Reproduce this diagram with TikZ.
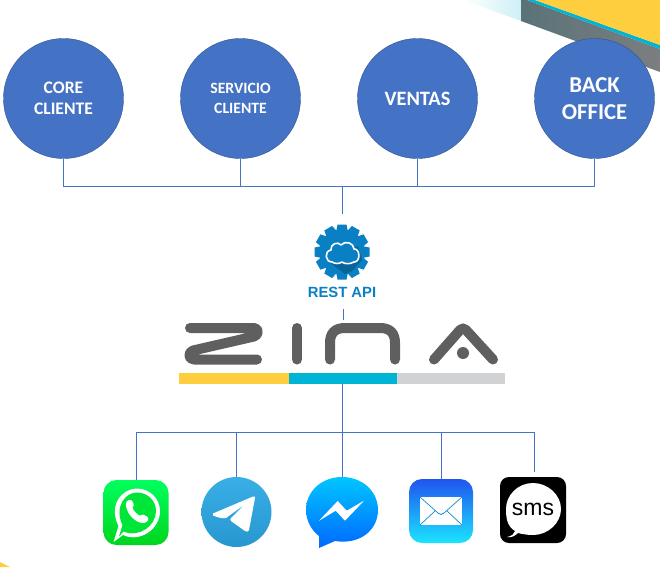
\documentclass[tikz,border=0pt]{standalone}
\usepackage{fontspec}
\setmainfont{Carlito}
\newfontfamily\iconfont{Liberation Sans}
\definecolor{circleblue}{HTML}{4472C4}
\definecolor{circleedge}{HTML}{2F528F}
\definecolor{apiblue}{HTML}{0A80C4}
\definecolor{zinagray}{HTML}{5F5F5F}
\definecolor{zinayellow}{HTML}{FFCE3E}
\definecolor{zinacyan}{HTML}{00B4D6}
\definecolor{zinasilver}{HTML}{D0D2D3}
\definecolor{wagreen}{HTML}{00D51E}
\definecolor{waback}{HTML}{00FF5E}
\definecolor{tgtop}{HTML}{39AEE6}
\definecolor{tgbottom}{HTML}{2897D0}
\definecolor{mstop}{HTML}{00C6FF}
\definecolor{msbottom}{HTML}{0068FF}
\definecolor{mailtop}{HTML}{1F55EE}
\definecolor{mailbottom}{HTML}{1CE4FF}
\definecolor{slateleft}{HTML}{5A7378}
\definecolor{slateright}{HTML}{7C7E80}
\tikzset{
  areanode/.style={circle,draw=circleedge,fill=circleblue,minimum size=120pt,inner sep=0pt,
    text=white,font=\bfseries,align=center},
  iconnode/.style={minimum size=65pt,inner sep=0pt,rounded corners=13pt},
  linkline/.style={draw=circleblue,line width=0.9pt},
  zinaline/.style={draw=zinagray,line width=10pt,line cap=round,line join=round}
}
\begin{document}
\begin{tikzpicture}[x=1pt,y=-1pt]
  \useasboundingbox (0,0) rectangle (660,567);
  % corner
  \shade[left color=white,right color=zinacyan!20] (463,0) -- (521,21) -- (521,0) -- cycle;
  \shade[left color=slateleft,right color=slateright] (521,0) -- (521,21) -- (660,72) -- (660,49) -- (527,0) -- cycle;
  \fill[zinacyan] (527,0) -- (660,49) -- (660,45) -- (535,0) -- cycle;
  \fill[zinayellow] (535,0) -- (660,45) -- (660,0) -- cycle;
  \fill[zinayellow] (0,562) -- (10,567) -- (0,567) -- cycle;
  % top circles
  \node[areanode,font=\bfseries\fontsize{17.6}{21}\selectfont] (core) at (63.5,98.5) {CORE\\CLIENTE};
  \node[areanode,font=\bfseries\fontsize{15.7}{19.5}\selectfont] (servicio) at (240.5,98.5) {SERVICIO\\CLIENTE};
  \node[areanode,font=\bfseries\fontsize{20.4}{24}\selectfont] (ventas) at (417.5,98.5) {VENTAS};
  \node[areanode,font=\bfseries\fontsize{22.7}{27}\selectfont] (back) at (594.5,98.5) {BACK\\OFFICE};
  \coordinate (top bus) at (342,186);
  \coordinate (api in) at (342,214);
  % gear
  \fill[apiblue] (342,252) circle (22.5);
  \foreach \a in {0,30,...,330}
    \fill[apiblue,rotate around={\a:(342,252)}] (336,232) -- (337.5,224.5) -- (346.5,224.5) -- (348,232) -- cycle;
  \fill[black!22!apiblue] (329,262) -- (358,246) -- (362,260) -- (352,271) -- (345,274) -- cycle;
  \draw[white,line width=1.6pt,fill=apiblue,line join=round]
    (332,262) .. controls (325,262) and (324,251) .. (331,250) .. controls (330,244) and (338,241) .. (341,245)
    .. controls (345,240) and (354,243) .. (354,249) .. controls (360,248) and (361,262) .. (354,262)
    .. controls (350,264.5) and (344,264) .. (342,262) .. controls (339,264) and (335,264) .. (332,262) -- cycle;
  \node[text=apiblue,font=\iconfont\bfseries\fontsize{14.8}{16}\selectfont,inner sep=0pt] (api) at (342,292.5) {REST API};
  \coordinate (api out) at (343,309);
  \coordinate (zina in) at (343,320);
  % zina
  \draw[zinaline] (190,328) -- (254,328) .. controls (259,328) and (259,335) .. (254,336.5) -- (193,350.5) .. controls (188,352) and (188,359.5) .. (194,359.5) -- (257,359.5);
  \draw[zinaline] (297,328) -- (297,359.5);
  \draw[zinaline] (330,359.5) -- (330,343) .. controls (330,333) and (335,328) .. (345,328) -- (380,328) .. controls (390,328) and (395,333) .. (395,343) -- (395,359.5);
  \draw[zinaline] (434,359.5) -- (460,330) .. controls (462,328) and (464,328) .. (466,330) -- (493,359.5);
  \fill[zinagray] (463,353) circle (6);
  \node[fill=zinayellow,minimum width=109.5pt,minimum height=11pt,inner sep=0pt,anchor=west] (baryellow) at (179,378.5) {};
  \node[fill=zinacyan,minimum width=108.5pt,minimum height=11pt,inner sep=0pt,anchor=west] (barcyan) at (288.5,378.5) {};
  \node[fill=zinasilver,minimum width=107.5pt,minimum height=11pt,inner sep=0pt,anchor=west] (barsilver) at (397,378.5) {};
  % icons
  \node[iconnode,top color=waback,bottom color=wagreen] (whatsapp) at (136,512.5) {};
  \fill[white] (113.5,542) -- (118.5,526) .. controls (108,505) and (122,488.5) .. (137,488.5)
    .. controls (150,488.5) and (160,499) .. (160,511) .. controls (160,529) and (140,543) .. (123,535) -- cycle;
  \fill[wagreen!60!waback] (119,536.5) -- (122.5,525) .. controls (114,507) and (125,492.5) .. (137,492.5)
    .. controls (148,492.5) and (156,501) .. (156,511) .. controls (156,526) and (139,538) .. (123.5,531.5) -- cycle;
  \fill[white] (129,500) .. controls (125,501) and (125,506) .. (128,512) .. controls (131,518) and (139,524) .. (144,523) .. controls (149,522) and (149,518) .. (147,516.5) .. controls (144,515) and (142,513) .. (140,515.5) .. controls (137,515) and (133,510) .. (132.5,507.5) .. controls (135,505) and (133,502) .. (132,500.5) .. controls (131,500) and (130,500) .. (129,500) -- cycle;
  \node[circle,minimum size=70pt,inner sep=0pt,top color=tgtop,bottom color=tgbottom] (telegram) at (236.5,512) {};
  \fill[white,line join=round] (213,513.5) -- (253,496.5) .. controls (255,496) and (255,497) .. (255,498) -- (249,530) .. controls (248.5,532) and (247,532) .. (245,531) -- (231,521) .. controls (230,520) and (230,519) .. (231,518) -- (244,505) -- (226,518) .. controls (222,519) and (217,517) .. (213,515.5) -- cycle;
  \shade[top color=mstop,bottom color=msbottom] (306,510) .. controls (306,491) and (322,477) .. (342,477) .. controls (362,477) and (378,491) .. (378,510) .. controls (378,530) and (360,545) .. (335,541) -- (319,548) -- (319,536) .. controls (311,530) and (306,520) .. (306,510) -- cycle;
  \coordinate (messenger) at (342,477);
  \fill[white] (319,520.7) -- (337.7,501) -- (346.7,510.7) -- (364,500.7) -- (345,520.7) -- (335.7,510.7) -- cycle;
  \node[iconnode,top color=mailtop,bottom color=mailbottom,minimum size=64pt] (mail) at (441,511) {};
  \fill[white] (420,497) -- (462,497) -- (462,525) -- (420,525) -- cycle;
  \draw[cyan!70!blue,line width=0.7pt,line join=round] (420,497) -- (438,513) .. controls (440,515) and (442,515) .. (444,513) -- (462,497) (420,525) -- (435.5,510.5) (462,525) -- (446.5,510.5);
  \node[iconnode,fill=black,minimum size=66pt,rounded corners=9pt] (sms) at (533,510) {};
  \fill[white] (507,537) .. controls (512,536) and (514,534) .. (515,531) .. controls (507,526) and (506,518) .. (506,509) .. controls (506,495) and (518,483) .. (533,483) .. controls (548,483) and (561,495) .. (561,509) .. controls (561,523) and (548,535) .. (533,535) .. controls (527,535) and (522,534) .. (518,533) .. controls (515,536) and (511,538) .. (507,537) -- cycle;
  \node[font=\iconfont\fontsize{23}{25}\selectfont,inner sep=0pt] (smstext) at (533,509) {sms};
  \coordinate (bottom bus) at (342,432);
  \coordinate (sms end) at (534,472);
  \coordinate (bar out) at (342,384);
  % links
  \begin{scope}[linkline]
    \draw (core.south) |- (top bus);
    \draw (servicio.south) |- (top bus);
    \draw (ventas.south) |- (top bus);
    \draw (back.south) |- (top bus);
    \draw (top bus) -- (api in);
    \draw (api out) -- (zina in);
    \draw (bar out) -- (bottom bus);
    \draw (whatsapp.north) |- (bottom bus);
    \draw (telegram.north) |- (bottom bus);
    \draw (bottom bus) -- (messenger);
    \draw (mail.north) |- (bottom bus);
    \draw (sms end) |- (bottom bus);
  \end{scope}
\end{tikzpicture}
\end{document}
